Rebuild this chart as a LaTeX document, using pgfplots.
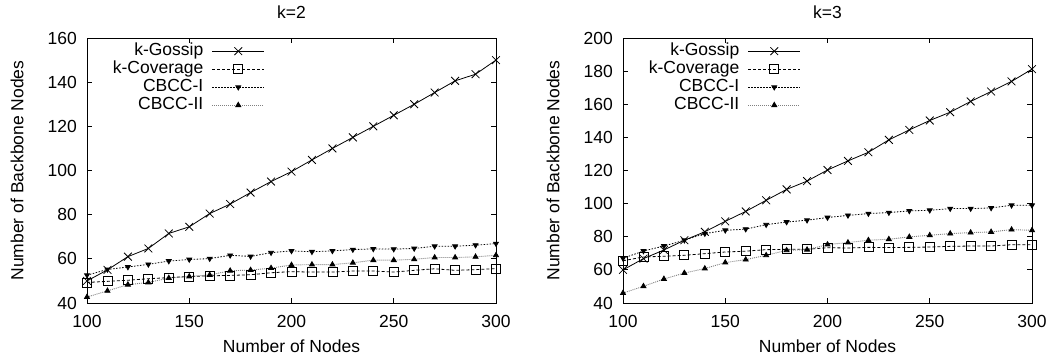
\documentclass[border=0pt]{standalone}
\usepackage{fontspec}
\setmainfont{Liberation Sans}
\usepackage{pgfplots}
\usepackage{pgfplotstable}
\pgfplotsset{compat=1.18}
\newcommand{\fs}{\fontsize{17.5}{20}\selectfont}

\pgfplotstableread{
x gossip cover cbcci cbccii
100 50 49.3 52.6 42.7
110 55 49.8 55.2 45.5
120 61 50.3 56.3 48.3
130 64.7 51 57.5 49.3
140 71.5 51.5 59 51.3
150 74.5 52 59.7 52
160 80.5 52.3 60.1 52.7
170 84.8 52.5 61.6 54.6
180 90 52.8 61.1 54.9
190 95 53.7 62.8 55.8
200 99.5 54.2 63.6 57.2
210 104.8 54 63.2 57.4
220 110 54 63.6 57.4
230 115 54.5 64.2 58.2
240 120 54.5 64.5 59.4
250 125 54 64.4 59.4
260 130 54.8 64.7 59.8
270 135.3 55.5 65.7 60.6
280 140.6 54.8 65.7 60.6
290 143.6 55.1 66.2 60.9
300 150 55.6 66.9 61.6
}\kTwo

\pgfplotstableread{
x gossip cover cbcci cbccii
100 60 65.5 67 46
110 66.8 67.8 71.4 50.1
120 72 68.2 74.4 54.5
130 77.9 68.8 77.9 58.1
140 83 69.8 81.9 60.8
150 89.3 70.8 83.9 64.4
160 95.3 71.3 84.6 66.2
170 102 72.2 87.3 68.8
180 108.6 72.4 88.9 71.8
190 113.6 72.4 90 72.2
200 120.3 73.4 91.6 75.3
210 125.8 73.2 92.9 76.5
220 131 73.6 94 77.9
230 138.5 73.5 94.6 78.5
240 144.5 73.6 95.6 79.9
250 150.2 73.8 96 80.9
260 155.2 74.2 97 81.9
270 161.7 74.4 97 82.5
280 167.7 74.4 97.4 82.9
290 173.8 75.2 99 84.3
300 181.2 75.2 99 83.9
}\kThree

\pgfplotsset{
  every axis title shift=0pt,
  myaxis/.style={
    scale only axis, width=409pt, height=265pt,
    xmin=100, xmax=300, xtick={100,150,200,250,300},
    tick align=inside, xtick pos=both, ytick pos=both,
    major tick length=5pt,
    axis line style={line width=1pt},
    every tick/.style={black, line width=0.8pt},
    /pgf/number format/assume math mode=true,
    tick label style={font=\fs},
    xticklabel style={anchor=center, yshift=-18pt},
    yticklabel style={anchor=east, inner sep=0pt, xshift=-10pt},
    label style={font=\fs},
    title style={font=\fs, at={(axis description cs:0.5,1.098)}, anchor=center},
    xlabel style={at={(axis description cs:0.5,-0.162)}, anchor=center},
    ylabel style={at={(axis description cs:-0.171,0.5)}, anchor=center},
    xlabel={Number of Nodes},
    ylabel={Number of Backbone Nodes},
    clip=false,
    legend plot pos=right,
    legend cell align=right,
    legend style={draw=none, fill=none, font=\fs, inner sep=0pt,
      row sep=0pt, column sep=8pt,
      nodes={text height=12.5pt, text depth=4.5pt, inner sep=0.5pt},
      at={(axis description cs:0.435,0.985)}, anchor=north east},
    legend image code/.code={\draw[mark repeat=2,mark phase=2,##1] plot coordinates {(0pt,0pt) (26pt,0pt) (52pt,0pt)};},
  },
  gos/.style={black, line width=0.8pt, mark=x, mark size=5.5pt, mark options={solid}},
  cov/.style={black, line width=0.8pt, dash pattern=on 3pt off 2pt, mark=square, mark size=4.5pt, mark options={solid}},
  cb1/.style={black, line width=0.8pt, dash pattern=on 1.5pt off 1.5pt, mark=triangle*, mark size=2.8pt, mark options={solid, rotate=180}},
  cb2/.style={gray, line width=0.9pt, dash pattern=on 1pt off 1pt, mark=triangle*, mark size=2.8pt, mark options={solid, black}},
}

\begin{document}
\begin{tikzpicture}
\path[use as bounding box] (0,0) rectangle (1051pt,360pt);
\begin{axis}[myaxis, at={(87pt,57pt)}, anchor=south west,
  ymin=40, ymax=160, ytick={40,60,...,160}, title={k=2}]
\addplot[gos] table[x=x,y=gossip] {\kTwo};
\addplot[cov] table[x=x,y=cover] {\kTwo};
\addplot[cb1] table[x=x,y=cbcci] {\kTwo};
\addplot[cb2] table[x=x,y=cbccii] {\kTwo};
\legend{k-Gossip,k-Coverage,CBCC-I,CBCC-II}
\end{axis}
\begin{axis}[myaxis, at={(623pt,57pt)}, anchor=south west,
  ymin=40, ymax=200, ytick={40,60,...,200}, title={k=3}]
\addplot[gos] table[x=x,y=gossip] {\kThree};
\addplot[cov] table[x=x,y=cover] {\kThree};
\addplot[cb1] table[x=x,y=cbcci] {\kThree};
\addplot[cb2] table[x=x,y=cbccii] {\kThree};
\legend{k-Gossip,k-Coverage,CBCC-I,CBCC-II}
\end{axis}
\end{tikzpicture}
\end{document}
